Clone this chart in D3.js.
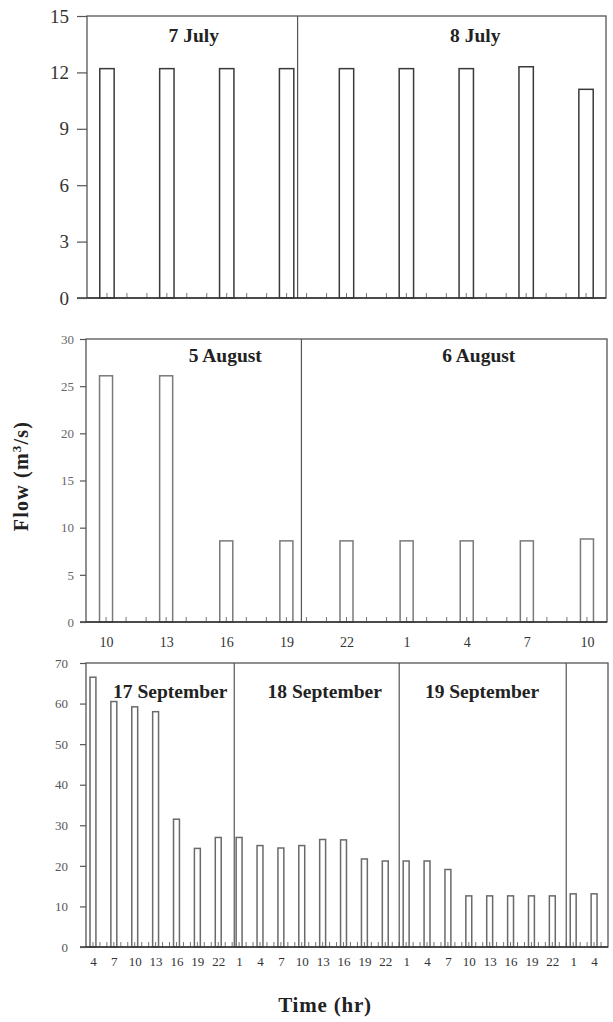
<!DOCTYPE html>
<html>
<head>
<meta charset="utf-8">
<script src="https://cdn.jsdelivr.net/npm/d3@7"></script>
<style>
  html, body { margin: 0; padding: 0; background: #fff; }
  svg { display: block; }
  text { font-family: "Liberation Serif", "DejaVu Serif", serif; }
</style>
</head>
<body>
<svg id="chart" width="613" height="1022"></svg>
<script>
// ---------------- DATA ----------------
// Panel 1: 7-8 July (no hour labels in the original)
const julyHours = [1, 4, 7, 10, 13, 16, 19, 22, 25];
const julyFlow  = [12.2, 12.2, 12.2, 12.2, 12.2, 12.2, 12.2, 12.3, 11.1];
const julyDays  = ["7 July", "8 July"];
const julyYTicks = [0, 3, 6, 9, 12, 15];

// Panel 2: 5-6 August
const augHours  = [1, 4, 7, 10, 13, 16, 19, 22, 25];
const augLabels = ["10", "13", "16", "19", "22", "1", "4", "7", "10"];
const augFlow   = [26.1, 26.1, 8.6, 8.6, 8.6, 8.6, 8.6, 8.6, 8.8];
const augDays   = ["5 August", "6 August"];
const augYTicks = [0, 5, 10, 15, 20, 25, 30];

// Panel 3: 17-19 September
const sepHours  = [1, 4, 7, 10, 13, 16, 19, 22, 25, 28, 31, 34, 37, 40, 43, 46, 49, 52, 55, 58, 61, 64, 67, 70, 73];
const sepLabels = ["4", "7", "10", "13", "16", "19", "22",
                   "1", "4", "7", "10", "13", "16", "19", "22",
                   "1", "4", "7", "10", "13", "16", "19", "22",
                   "1", "4"];
const sepFlow   = [66.5, 60.5, 59.2, 58.0, 31.5, 24.3, 27.0,
                   27.0, 25.0, 24.4, 25.0, 26.5, 26.4, 21.7, 21.2,
                   21.2, 21.2, 19.1, 12.6, 12.6, 12.6, 12.6, 12.6,
                   13.1, 13.1];
const sepDays   = ["17 September", "18 September", "19 September"];
const sepYTicks = [0, 10, 20, 30, 40, 50, 60, 70];

const yTitle = "Flow (m";
const xTitle = "Time (hr)";

// ---------------- LAYOUT ----------------
const svg = d3.select("#chart");

const panels = [
  { hours: julyHours, values: julyFlow, labels: null, yTicks: julyYTicks, yMax: 15,
    xMax: 26, box: { l: 87, r: 606, t: 16, b: 298 },
    dividers: [10.55], days: julyDays, dayX: [5.35, 19.45], dayY: 42,
    barW: 0.72, barStroke: "#3a3a3a", tickFont: 19, tickColor: "#333", yTickLen: 10, labelGap: 14,
    xFont: 13, xPad: 10 },
  { hours: augHours, values: augFlow, labels: augLabels, yTicks: augYTicks, yMax: 30,
    xMax: 26, box: { l: 86, r: 607, t: 339, b: 622 },
    dividers: [10.75], days: augDays, dayX: [6.95, 19.6], dayY: 362,
    barW: 0.65, barStroke: "#7a7a7a", tickFont: 13, tickColor: "#666", yTickLen: 6, labelGap: 8,
    xFont: 14, xPad: 15 },
  { hours: sepHours, values: sepFlow, labels: sepLabels, yTicks: sepYTicks, yMax: 70,
    xMax: 75, box: { l: 86, r: 608, t: 663, b: 947 },
    dividers: [21.3, 45.0, 69.0], days: sepDays, dayX: [12.1, 34.3, 56.9], dayY: 698,
    barW: 0.85, barStroke: "#6a6a6a", tickFont: 13, tickColor: "#555", yTickLen: 6, labelGap: 14,
    xFont: 13, xPad: 10 }
];

panels.forEach(p => {
  const b = p.box;
  const x = d3.scaleLinear().domain([0, p.xMax]).range([b.l, b.r]);
  const y = d3.scaleLinear().domain([0, p.yMax]).range([b.b, b.t]);
  const g = svg.append("g");

  // bars
  g.selectAll("rect.bar")
    .data(p.values)
    .join("rect")
    .attr("class", "bar")
    .attr("x", (d, i) => x(p.hours[i] - p.barW / 2))
    .attr("width", x(p.barW) - x(0))
    .attr("y", d => y(d))
    .attr("height", d => y(0) - y(d))
    .attr("fill", "#fff")
    .attr("stroke", p.barStroke)
    .attr("stroke-width", 1.5);

  // minor hourly ticks on x axis (inward)
  const minor = d3.range(1, p.xMax);
  g.selectAll("line.minor")
    .data(minor)
    .join("line")
    .attr("x1", d => x(d)).attr("x2", d => x(d))
    .attr("y1", b.b).attr("y2", b.b - 5)
    .attr("stroke", "#777").attr("stroke-width", 1);

  // day dividers
  g.selectAll("line.div")
    .data(p.dividers)
    .join("line")
    .attr("x1", d => x(d)).attr("x2", d => x(d))
    .attr("y1", b.t).attr("y2", b.b)
    .attr("stroke", "#555").attr("stroke-width", 1.2);

  // frame
  g.append("rect")
    .attr("x", b.l).attr("y", b.t)
    .attr("width", b.r - b.l).attr("height", b.b - b.t)
    .attr("fill", "none").attr("stroke", "#555").attr("stroke-width", 1.3);
  g.append("line")
    .attr("x1", b.l - p.yTickLen).attr("x2", b.r)
    .attr("y1", b.b).attr("y2", b.b)
    .attr("stroke", "#333").attr("stroke-width", 1.6);

  // y axis
  const yAxis = g.append("g")
    .attr("transform", `translate(${b.l},0)`)
    .call(d3.axisLeft(y).tickValues(p.yTicks).tickSize(p.yTickLen).tickPadding(p.labelGap - p.yTickLen + 4));
  yAxis.select(".domain").remove();
  yAxis.selectAll("line").attr("stroke", "#555").attr("stroke-width", 1.2);
  yAxis.selectAll("text")
    .attr("font-family", "'Liberation Serif', serif")
    .attr("font-size", p.tickFont)
    .attr("fill", p.tickColor);

  // x labels
  if (p.labels) {
    const xAxis = g.append("g")
      .attr("transform", `translate(0,${b.b})`)
      .call(d3.axisBottom(x).tickValues(p.hours).tickFormat((d, i) => p.labels[i]).tickSize(0).tickPadding(p.xPad));
    xAxis.select(".domain").remove();
    xAxis.selectAll("text")
      .attr("font-family", "'Liberation Serif', serif")
      .attr("font-size", p.xFont)
      .attr("fill", "#333");
  }

  // day titles
  g.selectAll("text.day")
    .data(p.days)
    .join("text")
    .attr("class", "day")
    .attr("x", (d, i) => x(p.dayX[i]))
    .attr("y", p.dayY)
    .attr("text-anchor", "middle")
    .attr("font-size", 19.5)
    .attr("font-weight", "bold")
    .attr("fill", "#222")
    .text(d => d);
});

// y title
const yt = svg.append("text")
  .attr("transform", "translate(28,476) rotate(-90)")
  .attr("text-anchor", "middle")
  .attr("font-size", 20)
  .attr("font-weight", "bold")
  .attr("letter-spacing", 1.2)
  .attr("fill", "#222");
yt.append("tspan").text(yTitle);
yt.append("tspan").attr("font-size", 13).attr("dy", -7).text("3");
yt.append("tspan").attr("dy", 7).text("/s)");

// x title
svg.append("text")
  .attr("x", 325).attr("y", 1012)
  .attr("text-anchor", "middle")
  .attr("font-size", 21)
  .attr("font-weight", "bold")
  .attr("letter-spacing", 0.8)
  .attr("fill", "#222")
  .text(xTitle);
</script>
</body>
</html>
